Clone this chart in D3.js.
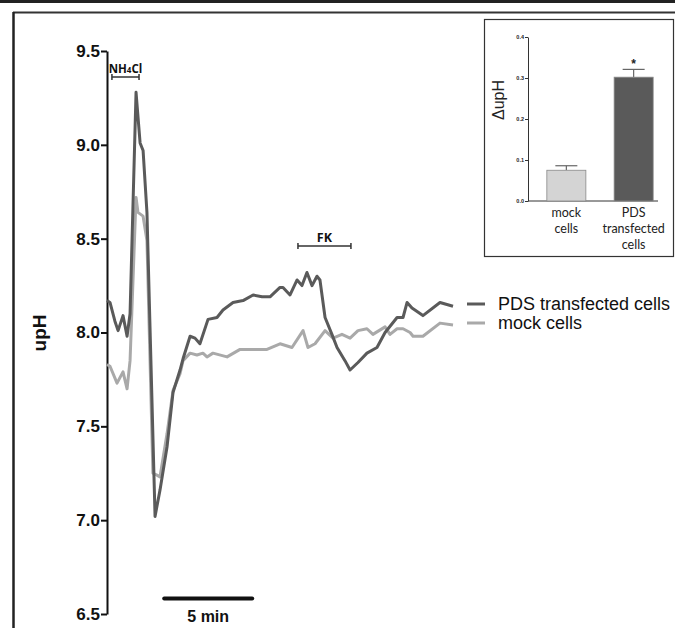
<!DOCTYPE html>
<html>
<head>
<meta charset="utf-8">
<script src="https://cdn.jsdelivr.net/npm/d3@7"></script>
<style>
  body { margin: 0; background: #fff; }
  svg { display: block; font-family: "Liberation Sans", Arial, sans-serif; }
</style>
</head>
<body>
<div id="chart"></div>
<script>
// time (min) and intracellular pH
const pdsTime = [0, 0.17, 0.45, 0.63, 0.91, 1.14, 1.31, 1.65, 1.88, 2.05, 2.27, 2.73, 3.01, 3.41, 3.75, 4.15, 4.32, 4.72, 5.0, 5.28, 5.74, 6.25, 6.59, 7.16, 7.73, 8.3, 8.81, 9.26, 9.83, 10.0, 10.4, 10.8, 11.08, 11.36, 11.65, 11.93, 12.1, 12.39, 12.78, 13.07, 13.52, 13.81, 14.26, 14.77, 15.34, 15.8, 16.48, 16.82, 17.05, 17.33, 17.95, 18.92, 19.66];
const pdsPH   = [8.17, 8.16, 8.06, 8.01, 8.09, 7.98, 8.1, 9.28, 9.01, 8.97, 8.64, 7.02, 7.16, 7.39, 7.68, 7.8, 7.86, 7.98, 7.97, 7.94, 8.07, 8.08, 8.12, 8.16, 8.17, 8.2, 8.19, 8.19, 8.24, 8.24, 8.2, 8.28, 8.25, 8.32, 8.25, 8.3, 8.28, 8.08, 7.99, 7.92, 7.85, 7.8, 7.84, 7.89, 7.92, 8.0, 8.08, 8.08, 8.16, 8.13, 8.09, 8.16, 8.14];

const mockTime = [0, 0.17, 0.57, 0.91, 1.14, 1.31, 1.65, 1.76, 2.05, 2.27, 2.61, 2.84, 3.01, 3.41, 3.75, 4.15, 4.32, 4.72, 5.11, 5.45, 5.68, 6.02, 6.82, 7.56, 8.3, 9.09, 9.83, 10.51, 11.14, 11.42, 11.82, 12.39, 12.84, 13.35, 13.81, 14.26, 14.77, 15.11, 15.8, 16.08, 16.48, 16.82, 17.22, 17.39, 17.95, 18.92, 19.66];
const mockPH   = [7.83, 7.82, 7.73, 7.79, 7.7, 7.85, 8.72, 8.64, 8.62, 8.49, 7.25, 7.24, 7.23, 7.46, 7.69, 7.78, 7.85, 7.89, 7.88, 7.89, 7.87, 7.89, 7.87, 7.91, 7.91, 7.91, 7.94, 7.92, 8.01, 7.92, 7.94, 8.01, 7.97, 7.99, 7.97, 8.01, 8.02, 7.99, 8.03, 7.99, 8.02, 8.02, 8.0, 7.98, 7.98, 8.05, 8.04];

const seriesNames = ["PDS transfected cells", "mock cells"];
const seriesColors = ["#5a5a5a", "#a9a9a9"];
const yTicks = [6.5, 7.0, 7.5, 8.0, 8.5, 9.0, 9.5];

// treatment periods (min)
const treatNames = ["NH4Cl", "FK"];
const treatStart = [0.28, 10.85];
const treatEnd = [1.82, 13.86];
const scaleBarStart = 3.25;
const scaleBarLength = 5;

// inset bar chart
const insetCats = [["mock", "cells"], ["PDS", "transfected", "cells"]];
const insetMeans = [0.075, 0.302];
const insetErr = [0.011, 0.019];
const insetTicks = [0.0, 0.1, 0.2, 0.3, 0.4];
const insetColors = ["#d4d4d4", "#5a5a5a"];

const width = 675, height = 628;
const svg = d3.select("#chart").append("svg")
  .attr("width", width).attr("height", height);

// frame lines
svg.append("line").attr("x1", 0).attr("x2", width).attr("y1", 1.5).attr("y2", 1.5)
  .attr("stroke", "#222").attr("stroke-width", 3);
svg.append("line").attr("x1", 13).attr("x2", width).attr("y1", 12.5).attr("y2", 12.5)
  .attr("stroke", "#333").attr("stroke-width", 2);
svg.append("line").attr("x1", 13.5).attr("x2", 13.5).attr("y1", 12).attr("y2", height)
  .attr("stroke", "#222").attr("stroke-width", 2.5);

const x = d3.scaleLinear().domain([0, 20]).range([107, 459]);
const y = d3.scaleLinear().domain([6.5, 9.5]).range([614, 51]);

const yAxis = svg.append("g")
  .attr("transform", "translate(107,0)")
  .call(d3.axisLeft(y).tickValues(yTicks).tickFormat(d3.format(".1f")).tickSize(6).tickSizeOuter(0));
yAxis.select(".domain").attr("stroke", "#111").attr("stroke-width", 2);
yAxis.selectAll(".tick line").attr("stroke", "#111").attr("stroke-width", 2);
yAxis.selectAll(".tick text")
  .attr("x", -7).attr("font-size", 17).attr("font-weight", "bold")
  .attr("font-family", "Liberation Sans, Arial, sans-serif").attr("fill", "#111");

svg.append("text")
  .attr("transform", "translate(46,333) rotate(-90)")
  .attr("text-anchor", "middle")
  .attr("font-size", 19).attr("font-weight", "bold").attr("fill", "#111")
  .text("upH");

const line = d3.line().x(d => x(d[0])).y(d => y(d[1]));
const series = [d3.zip(pdsTime, pdsPH), d3.zip(mockTime, mockPH)];

// mock drawn first, PDS on top
[1, 0].forEach(i => {
  svg.append("path")
    .datum(series[i])
    .attr("fill", "none")
    .attr("stroke", seriesColors[i])
    .attr("stroke-width", 3)
    .attr("stroke-linejoin", "round")
    .attr("d", line);
});

// legend
seriesNames.forEach((name, i) => {
  const ly = 304 + i * 19;
  svg.append("line").attr("x1", 467).attr("x2", 485).attr("y1", ly).attr("y2", ly)
    .attr("stroke", seriesColors[i]).attr("stroke-width", 3);
  svg.append("text").attr("x", 498).attr("y", ly + 6)
    .attr("font-size", 18).attr("fill", "#111").text(name);
});

// treatment brackets
const bracketY = [77, 246];
treatNames.forEach((name, i) => {
  const x1 = x(treatStart[i]), x2 = x(treatEnd[i]), by = bracketY[i];
  const g = svg.append("g").attr("stroke", "#333").attr("stroke-width", 1.5);
  g.append("line").attr("x1", x1).attr("x2", x2).attr("y1", by).attr("y2", by);
  g.append("line").attr("x1", x1).attr("x2", x1).attr("y1", by - 3).attr("y2", by + 3);
  g.append("line").attr("x1", x2).attr("x2", x2).attr("y1", by - 3).attr("y2", by + 3);
  const t = svg.append("text").attr("x", (x1 + x2) / 2).attr("y", by - 4)
    .attr("text-anchor", "middle").attr("font-weight", "bold")
    .attr("font-family", "Open Sans, sans-serif").attr("fill", "#111");
  if (name === "NH4Cl") {
    t.attr("font-size", 11.5);
    t.append("tspan").text("NH");
    t.append("tspan").attr("font-size", 8).text("4");
    t.append("tspan").text("Cl");
  } else {
    t.attr("font-size", 12.5).text(name);
  }
});

// scale bar
svg.append("line")
  .attr("x1", x(scaleBarStart)).attr("x2", x(scaleBarStart + scaleBarLength))
  .attr("y1", 598.5).attr("y2", 598.5)
  .attr("stroke", "#111").attr("stroke-width", 4).attr("stroke-linecap", "round");
svg.append("text")
  .attr("x", x(scaleBarStart + scaleBarLength / 2)).attr("y", 622)
  .attr("text-anchor", "middle").attr("font-size", 16).attr("font-weight", "bold").attr("fill", "#111")
  .text("5 min");

// inset
const inset = svg.append("g");
inset.append("rect").attr("x", 484.5).attr("y", 19.5).attr("width", 189).attr("height", 237)
  .attr("fill", "#fff").attr("stroke", "#333").attr("stroke-width", 1.2);

const iy = d3.scaleLinear().domain([0, 0.4]).range([201, 37]);
const ix = d3.scaleBand().domain([0, 1]).range([528, 672]).paddingInner(0.42).paddingOuter(0.28);

const iyAxis = inset.append("g").attr("transform", "translate(528,0)")
  .call(d3.axisLeft(iy).tickValues(insetTicks).tickFormat(d3.format(".1f")).tickSize(3).tickSizeOuter(0));
iyAxis.selectAll("text").attr("font-size", 5.5).attr("font-weight", "bold").attr("x", -4).attr("fill", "#222");
iyAxis.selectAll("line, path").attr("stroke", "#333");

inset.append("line").attr("x1", 528).attr("x2", 658).attr("y1", 201).attr("y2", 201)
  .attr("stroke", "#333");

inset.append("text")
  .attr("transform", "translate(504,100) rotate(-90)")
  .attr("text-anchor", "middle").attr("font-size", 16).attr("fill", "#222")
  .attr("font-family", "Liberation Sans, Arial, sans-serif")
  .text("\u0394upH");

insetMeans.forEach((v, i) => {
  const bx = ix(i), bw = ix.bandwidth(), cx = bx + bw / 2;
  inset.append("line").attr("x1", cx).attr("x2", cx).attr("y1", iy(v)).attr("y2", iy(v + insetErr[i]))
    .attr("stroke", "#666").attr("stroke-width", 1.2);
  inset.append("line").attr("x1", cx - 11).attr("x2", cx + 11)
    .attr("y1", iy(v + insetErr[i])).attr("y2", iy(v + insetErr[i]))
    .attr("stroke", "#666").attr("stroke-width", 1.2);
  inset.append("rect").attr("x", bx).attr("y", iy(v)).attr("width", bw).attr("height", iy(0) - iy(v))
    .attr("fill", insetColors[i]).attr("stroke", "#888").attr("stroke-width", 0.8);
  const t = inset.append("text").attr("text-anchor", "middle").attr("font-size", 12.5)
    .attr("font-family", "Lato, Open Sans, sans-serif").attr("fill", "#222");
  insetCats[i].forEach((w, j) => {
    t.append("tspan").attr("x", cx).attr("y", 217 + j * 16).text(w);
  });
});
inset.append("text").attr("x", ix(1) + ix.bandwidth() / 2).attr("y", 68)
  .attr("text-anchor", "middle").attr("font-size", 12).attr("font-weight", "bold").attr("fill", "#222")
  .text("*");
</script>
</body>
</html>
